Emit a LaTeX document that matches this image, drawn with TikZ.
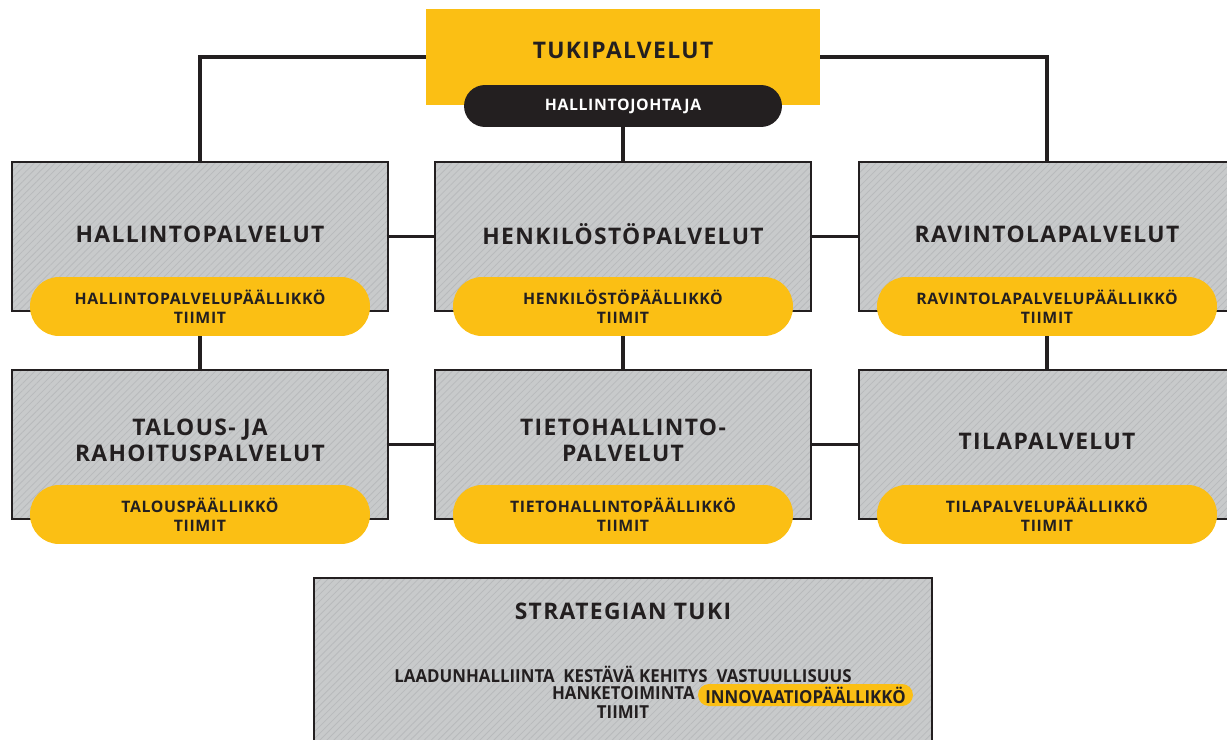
\documentclass[tikz,border=0pt]{standalone}
\usepackage{fontspec}
\setmainfont{Open Sans}
\newfontfamily\headfont[LetterSpace=6]{Open Sans}
\newfontfamily\leadfont[LetterSpace=4]{Open Sans}
\newfontfamily\condfont[FakeStretch=0.94]{Open Sans}
\usetikzlibrary{patterns.meta}
\definecolor{tyellow}{HTML}{FBBF14}
\definecolor{tdark}{HTML}{231F20}
\definecolor{tgray}{HTML}{C8CACB}
\definecolor{thatch}{HTML}{B8BABC}

\begin{document}
\begin{tikzpicture}[x=0.02cm,y=-0.02cm,
    unit/.style={draw=tdark,line width=1.4pt,preaction={fill=tgray},
      pattern={Lines[angle=45,distance=2.8pt,line width=0.45pt]},pattern color=thatch,
      minimum width=7.52cm,minimum height=2.98cm,inner sep=0pt,text=tdark,align=center,
      font=\headfont\bfseries\fontsize{13}{14.5}\selectfont},
    title/.style={text=tdark,inner sep=0pt,align=center,font=\headfont\bfseries\fontsize{13}{14.5}\selectfont},
    lead/.style={fill=tyellow,rounded corners=0.58cm,minimum width=6.8cm,minimum height=1.18cm,
      inner sep=0pt,text=tdark,align=center,font=\leadfont\bfseries\fontsize{9}{10.8}\selectfont},
    link/.style={draw=tdark,line width=2.2pt},
    small/.style={text=tdark,inner sep=0pt,font=\condfont\bfseries\fontsize{10.2}{10.8}\selectfont}]

    \useasboundingbox (0,0) rectangle (1227,740);
    \clip (0,0) rectangle (1227,740);

    % top
    \node[fill=tyellow,minimum width=7.88cm,minimum height=1.92cm] (tuki) at (623,57) {};
    \node[title] (tukiname) at (623,50) {TUKIPALVELUT};
    \node[fill=tdark,rounded corners=0.42cm,minimum width=6.36cm,minimum height=0.84cm,inner sep=0pt,
      text=white,font=\leadfont\bfseries\fontsize{9}{11}\selectfont] (johtaja) at (623,106) {HALLINTOJOHTAJA};

    % row 1
    \node[unit] (hallinto) at (200,236.5) {};
    \node[unit] (henkilo) at (623,236.5) {};
    \node[unit] (ravinto) at (1047,236.5) {};
    \node[title] at (200,234) {HALLINTOPALVELUT};
    \node[title] at (623,234) {HENKILÖSTÖPALVELUT};
    \node[title] at (1047,234) {RAVINTOLAPALVELUT};
    \node[lead] (hallintolead) at (200,306.5) {HALLINTOPALVELUPÄÄLLIKKÖ\\TIIMIT};
    \node[lead] (henkilolead) at (623,306.5) {HENKILÖSTÖPÄÄLLIKKÖ\\TIIMIT};
    \node[lead] (ravintolead) at (1047,306.5) {RAVINTOLAPALVELUPÄÄLLIKKÖ\\TIIMIT};

    % row 2
    \node[unit] (talous) at (200,444.5) {};
    \node[unit] (tieto) at (623,444.5) {};
    \node[unit] (tila) at (1047,444.5) {};
    \node[title] at (200,440.5) {TALOUS- JA\\RAHOITUSPALVELUT};
    \node[title] at (623,440.5) {TIETOHALLINTO-\\PALVELUT};
    \node[title] at (1047,441) {TILAPALVELUT};
    \node[lead] (talouslead) at (200,514.5) {TALOUSPÄÄLLIKKÖ\\TIIMIT};
    \node[lead] (tietolead) at (623,514.5) {TIETOHALLINTOPÄÄLLIKKÖ\\TIIMIT};
    \node[lead] (tilalead) at (1047,514.5) {TILAPALVELUPÄÄLLIKKÖ\\TIIMIT};

    % links
    \draw[link] (tuki.west) -| (hallinto.north);
    \draw[link] (tuki.east) -| (ravinto.north);
    \draw[link] (johtaja.south) -- (henkilo.north);
    \draw[link] (hallinto.east) -- (henkilo.west);
    \draw[link] (henkilo.east) -- (ravinto.west);
    \draw[link] (talous.east) -- (tieto.west);
    \draw[link] (tieto.east) -- (tila.west);
    \foreach \a/\b in {hallintolead/talous,henkilolead/tieto,ravintolead/tila}
    { \draw[link] (\a.south) -- (\b.north); }

    % strategy
    \node[unit,minimum width=12.36cm,minimum height=4.4cm] (strategia) at (623,688) {};
    \node[title] (strategianame) at (623,611) {STRATEGIAN TUKI};
    \node[small] (teemat) at (623,674) {LAADUNHALLIINTA\ \ KESTÄVÄ KEHITYS\ \ VASTUULLISUUS};
    \node[small,anchor=east] (hanke) at (695,693) {HANKETOIMINTA};
    \node[small,fill=tyellow,rounded corners=0.22cm,minimum width=4.3cm,minimum height=0.44cm] (innovaatio) at (805.5,695) {INNOVAATIOPÄÄLLIKKÖ};
    \node[small] (tiimit) at (623,712) {TIIMIT};

\end{tikzpicture}
\end{document}
